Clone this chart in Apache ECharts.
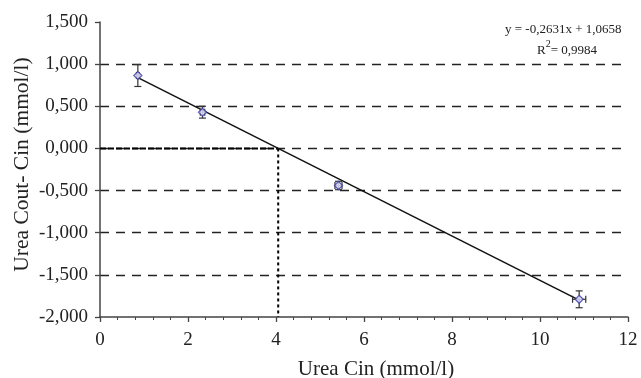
<!DOCTYPE html>
<html>
<head>
<meta charset="utf-8">
<script src="https://cdn.jsdelivr.net/npm/echarts@6/dist/echarts.min.js"></script>
<style>
html,body{margin:0;padding:0;background:#fff;}
#chart{width:641px;height:378px;}
</style>
</head>
<body>
<div id="chart"></div>
<script>
// Data
const pointX = [0.86, 2.33, 5.42, 10.89];
const pointY = [0.865, 0.43, -0.44, -1.79];
const errY = [0.13, 0.07, 0.05, 0.10];
const errX = [0.03, 0.05, 0.08, 0.15];
const trendX = [0.86, 10.89];
const trendY = [0.84, -1.80];
const rootX = 4.05;
const yMin = -2, yMax = 1.5, yStep = 0.5;
const xMin = 0, xMax = 12, xStep = 2;
const eqLine1 = 'y = -0,2631x + 1,0658';
const eqR2 = '= 0,9984';

const FONT = '"Liberation Serif", "Times New Roman", serif';
const TXT = '#222';

const chart = echarts.init(document.getElementById('chart'), null, {renderer: 'canvas'});

const pts = pointX.map((x, i) => [x, pointY[i], errX[i], errY[i]]);

const option = {
  backgroundColor: '#fff',
  animation: false,
  grid: {left: 100, right: 13, top: 22, bottom: 61, containLabel: false, outerBoundsMode: 'none'},
  xAxis: {
    type: 'value', min: xMin, max: xMax, interval: xStep,
    name: 'Urea Cin (mmol/l)', nameLocation: 'middle', nameGap: 42,
    nameTextStyle: {fontFamily: FONT, fontSize: 21, color: TXT, padding: [0, 0, 0, 24]},
    axisLine: {show: true, onZero: false, lineStyle: {color: '#444', width: 1.5}},
    axisTick: {show: true, inside: false, length: 5, lineStyle: {color: '#444', width: 1.3}},
    minorTick: {show: true, splitNumber: 5, length: 3, lineStyle: {color: '#444', width: 1}},
    axisLabel: {fontFamily: FONT, fontSize: 19, color: TXT, margin: 14},
    splitLine: {show: false}
  },
  yAxis: {
    type: 'value', min: yMin, max: yMax, interval: yStep,
    name: 'Urea Cout- Cin (mmol/l)', nameLocation: 'middle', nameGap: 67,
    nameMoveOverlap: false,
    nameTextStyle: {fontFamily: FONT, fontSize: 21.5, color: TXT, padding: [0, 0, 0, 10]},
    axisLine: {show: true, onZero: false, lineStyle: {color: '#444', width: 1.5}},
    axisTick: {show: true, inside: false, length: 5, lineStyle: {color: '#444', width: 1.3}},
    axisLabel: {
      fontFamily: FONT, fontSize: 19, color: TXT, margin: 12,
      formatter: v => v.toFixed(3).replace('.', ',')
    },
    splitLine: {show: true, showMaxLine: false, showMinLine: false,
      lineStyle: {color: '#222', width: 1.3, type: [9, 7]}}
  },
  graphic: [{
    type: 'text', left: 505, top: 23,
    style: {text: eqLine1, font: '13px ' + FONT, fill: TXT}
  }, {
    type: 'text', left: 537, top: 39,
    style: {
      text: '{r|R}{s|2}{r|' + eqR2 + '}',
      rich: {
        r: {fontFamily: FONT, fontSize: 13, fill: TXT, color: TXT, verticalAlign: 'bottom', lineHeight: 18},
        s: {fontFamily: FONT, fontSize: 10, fill: TXT, color: TXT, verticalAlign: 'top', lineHeight: 18}
      }
    }
  }],
  series: [
    {
      name: 'zeroH', type: 'line', symbol: 'none', silent: true, z: 3,
      data: [[xMin, 0], [rootX, 0]],
      lineStyle: {color: '#000', width: 2, type: [6, 2]}
    },
    {
      name: 'zeroV', type: 'line', symbol: 'none', silent: true, z: 3,
      data: [[rootX, 0], [rootX, yMin]],
      lineStyle: {color: '#000', width: 2, type: [3, 3]}
    },
    {
      name: 'trend', type: 'line', symbol: 'none', silent: true, z: 4,
      data: trendX.map((x, i) => [x, trendY[i]]),
      lineStyle: {color: '#111', width: 1.5}
    },
    {
      name: 'err', type: 'custom', z: 5,
      data: pts,
      renderItem: function (params, api) {
        const x = api.value(0), y = api.value(1), ex = api.value(2), ey = api.value(3);
        const top = api.coord([x, y + ey]);
        const bot = api.coord([x, y - ey]);
        const left = api.coord([x - ex, y]);
        const right = api.coord([x + ex, y]);
        const cap = 3.5;
        const st = {stroke: '#333', lineWidth: 1.2};
        return {
          type: 'group',
          children: [
            {type: 'line', shape: {x1: top[0], y1: top[1], x2: bot[0], y2: bot[1]}, style: st},
            {type: 'line', shape: {x1: top[0] - cap, y1: top[1], x2: top[0] + cap, y2: top[1]}, style: st},
            {type: 'line', shape: {x1: bot[0] - cap, y1: bot[1], x2: bot[0] + cap, y2: bot[1]}, style: st},
            {type: 'line', shape: {x1: left[0], y1: left[1], x2: right[0], y2: right[1]}, style: st},
            {type: 'line', shape: {x1: left[0], y1: left[1] - cap, x2: left[0], y2: left[1] + cap}, style: st},
            {type: 'line', shape: {x1: right[0], y1: right[1] - cap, x2: right[0], y2: right[1] + cap}, style: st}
          ]
        };
      }
    },
    {
      name: 'points', type: 'scatter', z: 6,
      data: pointX.map((x, i) => [x, pointY[i]]),
      symbol: 'diamond', symbolSize: 8,
      itemStyle: {color: '#e8e8ff', borderColor: '#3a3aa8', borderWidth: 1.3}
    }
  ]
};
chart.setOption(option);
</script>
</body>
</html>
